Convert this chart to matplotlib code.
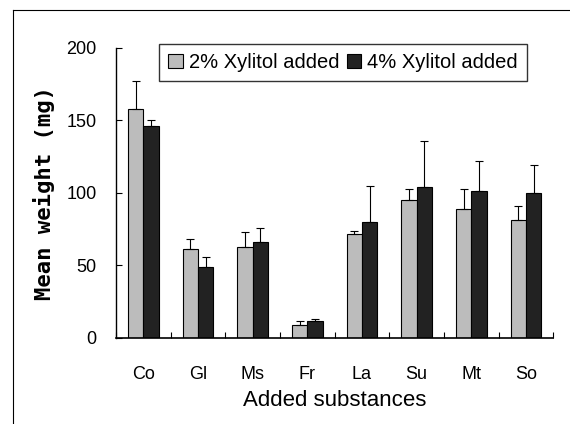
import matplotlib.pyplot as plt
import numpy as np
from matplotlib.lines import Line2D

# dados
substancias = ["Co", "Gl", "Ms", "Fr", "La", "Su", "Mt", "So"]
xil2 = [158, 61, 63, 9, 72, 95, 89, 81]
xil2_err = [19, 7, 10, 3, 2, 8, 14, 10]
xil4 = [146, 49, 66, 12, 80, 104, 101, 100]
xil4_err = [4, 7, 10, 1, 25, 32, 21, 19]

fig = plt.figure(figsize=(5.7, 4.24), dpi=100)
ax = fig.add_axes([0.2035, 0.203, 0.767, 0.684])

x = np.arange(len(substancias)) + 0.5
w = 0.28
zeros = np.zeros(len(substancias))

ax.bar(x - w/2, xil2, width=w, color="#bcbcbc", edgecolor="black", linewidth=0.8,
       yerr=[zeros, xil2_err], error_kw=dict(ecolor="black", elinewidth=0.8, capsize=3, capthick=0.8),
       label="2% Xylitol added")
ax.bar(x + w/2, xil4, width=w, color="#222222", edgecolor="black", linewidth=0.8,
       yerr=[zeros, xil4_err], error_kw=dict(ecolor="black", elinewidth=0.8, capsize=3, capthick=0.8),
       label="4% Xylitol added")

ax.set_xlim(0, len(substancias))
ax.set_ylim(0, 200)
ax.set_yticks([0, 50, 100, 150, 200])
ax.set_xticks(np.arange(len(substancias) + 1))
ax.set_xticklabels([])
ax.set_xticks(x, minor=True)
ax.set_xticklabels(substancias, minor=True, fontsize=13, family="Liberation Sans")
ax.tick_params(axis="x", which="major", direction="in", length=4, width=0.8)
ax.tick_params(axis="x", which="minor", length=0, pad=20)
ax.tick_params(axis="y", direction="in", length=4, width=0.8, labelsize=13, pad=14)
for t in ax.get_yticklabels():
    t.set_family("Liberation Sans")

ax.spines["top"].set_visible(False)
ax.spines["right"].set_visible(False)
ax.spines["left"].set_linewidth(1.0)
ax.spines["bottom"].set_linewidth(1.2)

ax.set_ylabel("Mean weight (mg)", family="DejaVu Sans Mono", fontweight="bold", fontsize=16, labelpad=8)
ax.set_xlabel("Added substances", family="Liberation Sans", fontsize=16, labelpad=5)

leg = ax.legend(loc="upper right", bbox_to_anchor=(0.94, 1.015), ncol=2, frameon=True, fancybox=False,
                edgecolor="black", handlelength=0.7, handleheight=0.7, handletextpad=0.3,
                columnspacing=0.4, borderpad=0.45, borderaxespad=0,
                prop={"family": "Liberation Sans", "size": 14.5})
leg.get_frame().set_linewidth(1.0)

# moldura da figura
fig.add_artist(Line2D([0.023, 1.0], [0.976, 0.976], color="black", linewidth=0.8))
fig.add_artist(Line2D([0.023, 0.023], [0.0, 0.976], color="black", linewidth=0.8))

fig.savefig("out.png", dpi=100)
